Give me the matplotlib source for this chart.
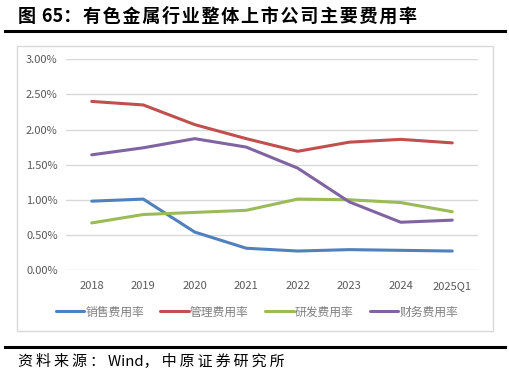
import matplotlib.pyplot as plt
from matplotlib.patches import Rectangle
from matplotlib.lines import Line2D
from matplotlib.ticker import FuncFormatter

plt.rcParams['font.family'] = ['Noto Sans CJK SC', 'DejaVu Sans']

years = ['2018', '2019', '2020', '2021', '2022', '2023', '2024', '2025Q1']
sales = [0.98, 1.01, 0.54, 0.31, 0.27, 0.29, 0.28, 0.27]
admin = [2.40, 2.35, 2.07, 1.87, 1.69, 1.82, 1.86, 1.81]
rnd = [0.67, 0.79, 0.82, 0.85, 1.01, 1.00, 0.96, 0.83]
finance = [1.64, 1.74, 1.87, 1.75, 1.45, 0.97, 0.68, 0.71]
names = ['销售费用率', '管理费用率', '研发费用率', '财务费用率']
colors = ['#4F81BD', '#C0504D', '#9BBB59', '#8064A2']
title = '图 65：有色金属行业整体上市公司主要费用率'
source = '资料来源：Wind，中原证券研究所'

W, H = 510, 378
fig = plt.figure(figsize=(W / 100, H / 100), dpi=100)

def fx(px):
    return px / W

def fy(py):
    return 1 - py / H

def spaced(s, n):
    # widen the spacing after CJK characters only, latin runs stay tight
    out = ''
    for i, ch in enumerate(s):
        out += ch
        if i < len(s) - 1 and ord(ch) > 0x2E80:
            out += '\u200a' * n
    return out

# outer chart box
fig.patches.append(Rectangle((fx(17), fy(331)), fx(493) - fx(17), fy(46) - fy(331),
                             transform=fig.transFigure, fill=False,
                             edgecolor='#D9D9D9', linewidth=1))
# thick rules
fig.add_artist(Line2D([fx(5), fx(505)], [fy(31), fy(31)], transform=fig.transFigure,
                      color='black', linewidth=2.2))
fig.add_artist(Line2D([fx(5), fx(505)], [fy(347), fy(347)], transform=fig.transFigure,
                      color='black', linewidth=2.2))

fig.text(fx(18), fy(16), spaced(title, 1), fontsize=13,
         fontweight='bold', va='center', ha='left', color='black')
fig.text(fx(18), fy(362), spaced(source, 2), fontsize=10.8,
         va='center', ha='left', color='black')

ax = fig.add_axes([fx(66), fy(270), fx(478) - fx(66), fy(59.3) - fy(270)])
x = list(range(len(years)))
for vals, name, c in zip([sales, admin, rnd, finance], names, colors):
    ax.plot(x, vals, color=c, linewidth=2.2, label=name, solid_capstyle='round')

ax.set_xlim(-0.5, len(years) - 0.5)
ax.set_ylim(0, 3.0)
ax.set_yticks([0, 0.5, 1.0, 1.5, 2.0, 2.5, 3.0])
ax.yaxis.set_major_formatter(FuncFormatter(lambda v, p: f'{v:.2f}%'))
ax.set_xticks(x)
ax.set_xticklabels(years)
ax.grid(axis='y', color='#D9D9D9', linewidth=1)
ax.set_axisbelow(True)
for s in ax.spines.values():
    s.set_visible(False)
ax.tick_params(length=0, labelsize=8, colors='#595959', pad=6)
ax.tick_params(axis='x', pad=8)

fig.legend(loc='center', bbox_to_anchor=(fx(257), fy(312)), ncol=4, frameon=False,
           fontsize=8.5, handlelength=2.4, handletextpad=0.1, columnspacing=1.4,
           labelcolor='#7F7F7F')

fig.savefig('out.png', dpi=100)
